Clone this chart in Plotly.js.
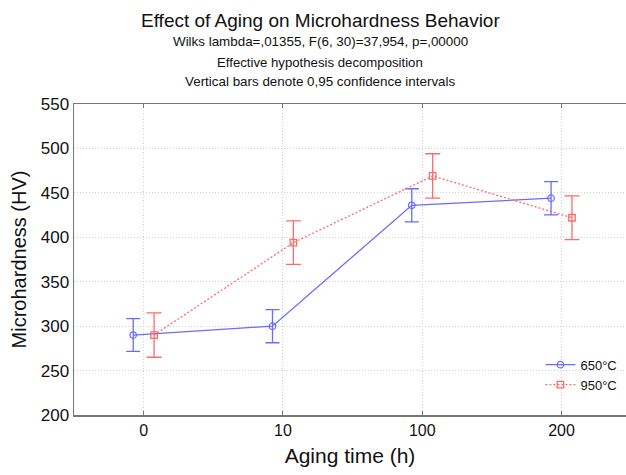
<!DOCTYPE html>
<html>
<head>
<meta charset="utf-8">
<script src="https://cdn.plot.ly/plotly-3.0.1.min.js"></script>
<style>
  html, body { margin: 0; padding: 0; background: #fff; }
  #chart { width: 626px; height: 475px; }
</style>
</head>
<body>
<div id="chart"></div>
<script>
// Aging time groups (categorical axis)
const agingTimes = ['0', '10', '100', '200'];

// Mean microhardness (HV) for each solution-treatment temperature
const hv650 = [290, 300, 436, 444];
const hv950 = [290, 394, 469, 422];

// Half-width of the 0.95 confidence intervals
const ci650 = [18.5, 18.7, 18.6, 18.7];
const ci950 = [25, 24.5, 25, 24.7];

const seriesNames = ['650°C', '950°C'];

// Small horizontal dodge so the two groups do not overlap
const dodge = 0.075;
const idx = agingTimes.map((_, i) => i);

const blue = '#6b6bff';
const red = '#ff6b6b';

const traces = [
  {
    x: idx.map(i => i - dodge),
    y: hv650,
    name: seriesNames[0],
    type: 'scatter',
    mode: 'lines+markers',
    line: { color: blue, width: 1.3 },
    marker: { symbol: 'circle-open', size: 6.5, color: blue, line: { width: 1.3 } },
    error_y: { type: 'data', array: ci650, visible: true, color: blue, thickness: 1.3, width: 7 }
  },
  {
    x: idx.map(i => i + dodge),
    y: hv950,
    name: seriesNames[1],
    type: 'scatter',
    mode: 'lines+markers',
    line: { color: red, width: 1.3, dash: '2px,2px' },
    marker: { symbol: 'square-open', size: 6.5, color: red, line: { width: 1.3 } },
    error_y: { type: 'data', array: ci950, visible: true, color: red, thickness: 1.3, width: 7.5 }
  }
];

const font = 'Liberation Sans, Arial, sans-serif';

const layout = {
  width: 626,
  height: 475,
  margin: { l: 74, r: 0, t: 104, b: 60 },
  paper_bgcolor: '#ffffff',
  plot_bgcolor: '#ffffff',
  font: { family: font, color: '#111' },
  showlegend: true,
  legend: {
    x: 0.845, y: 0.21, xanchor: 'left', yanchor: 'top',
    font: { family: font, size: 13, color: '#111' },
    bgcolor: 'rgba(0,0,0,0)',
    itemwidth: 30,
    tracegroupgap: 0
  },
  xaxis: {
    range: [-0.5, 3.463],
    tickmode: 'array',
    tickvals: idx,
    ticktext: agingTimes,
    showgrid: true,
    gridcolor: '#d2d2d2',
    griddash: '1px,2px',
    gridwidth: 1,
    showline: true,
    mirror: 'ticks',
    linecolor: '#777',
    linewidth: 1.5,
    ticks: 'inside',
    ticklen: 4,
    tickcolor: '#777',
    zeroline: false,
    tickfont: { family: font, size: 16, color: '#111' },
    title: { text: 'Aging time (h)', font: { family: font, size: 21, color: '#111' }, standoff: 10 }
  },
  yaxis: {
    range: [200, 550],
    tickvals: [200, 250, 300, 350, 400, 450, 500, 550],
    showgrid: true,
    gridcolor: '#d2d2d2',
    griddash: '1px,2px',
    gridwidth: 1,
    showline: true,
    mirror: true,
    linecolor: '#777',
    linewidth: 1.5,
    ticks: '',
    zeroline: false,
    tickfont: { family: font, size: 17, color: '#111' },
    title: { text: 'Microhardness (HV)', font: { family: font, size: 20, color: '#111' }, standoff: 8 }
  },
  annotations: [
    { text: 'Effect of Aging on Microhardness Behavior', xref: 'paper', yref: 'paper',
      x: 0.5, y: 0, xanchor: 'center', yanchor: 'middle', showarrow: false,
      font: { family: font, size: 19, color: '#111' } },
    { text: 'Wilks lambda=,01355, F(6, 30)=37,954, p=,00000', xref: 'paper', yref: 'paper',
      x: 0.5, y: 0, xanchor: 'center', yanchor: 'middle', showarrow: false,
      font: { family: font, size: 13.4, color: '#111' } },
    { text: 'Effective hypothesis decomposition', xref: 'paper', yref: 'paper',
      x: 0.5, y: 0, xanchor: 'center', yanchor: 'middle', showarrow: false,
      font: { family: font, size: 13.2, color: '#111' } },
    { text: 'Vertical bars denote 0,95 confidence intervals', xref: 'paper', yref: 'paper',
      x: 0.5, y: 0, xanchor: 'center', yanchor: 'middle', showarrow: false,
      font: { family: font, size: 13.4, color: '#111' } }
  ]
};

// Place the header lines in pixel rows above the plot area
const plotH = layout.height - layout.margin.t - layout.margin.b;
const plotW = layout.width - layout.margin.l - layout.margin.r;
const headerRows = [20, 41, 62, 81];
const figCenterX = 320;
layout.annotations.forEach((a, i) => {
  a.y = (layout.height - layout.margin.b - headerRows[i]) / plotH;
  a.x = (figCenterX - layout.margin.l) / plotW;
});

Plotly.newPlot('chart', traces, layout, { displayModeBar: false, staticPlot: true });
</script>
</body>
</html>
